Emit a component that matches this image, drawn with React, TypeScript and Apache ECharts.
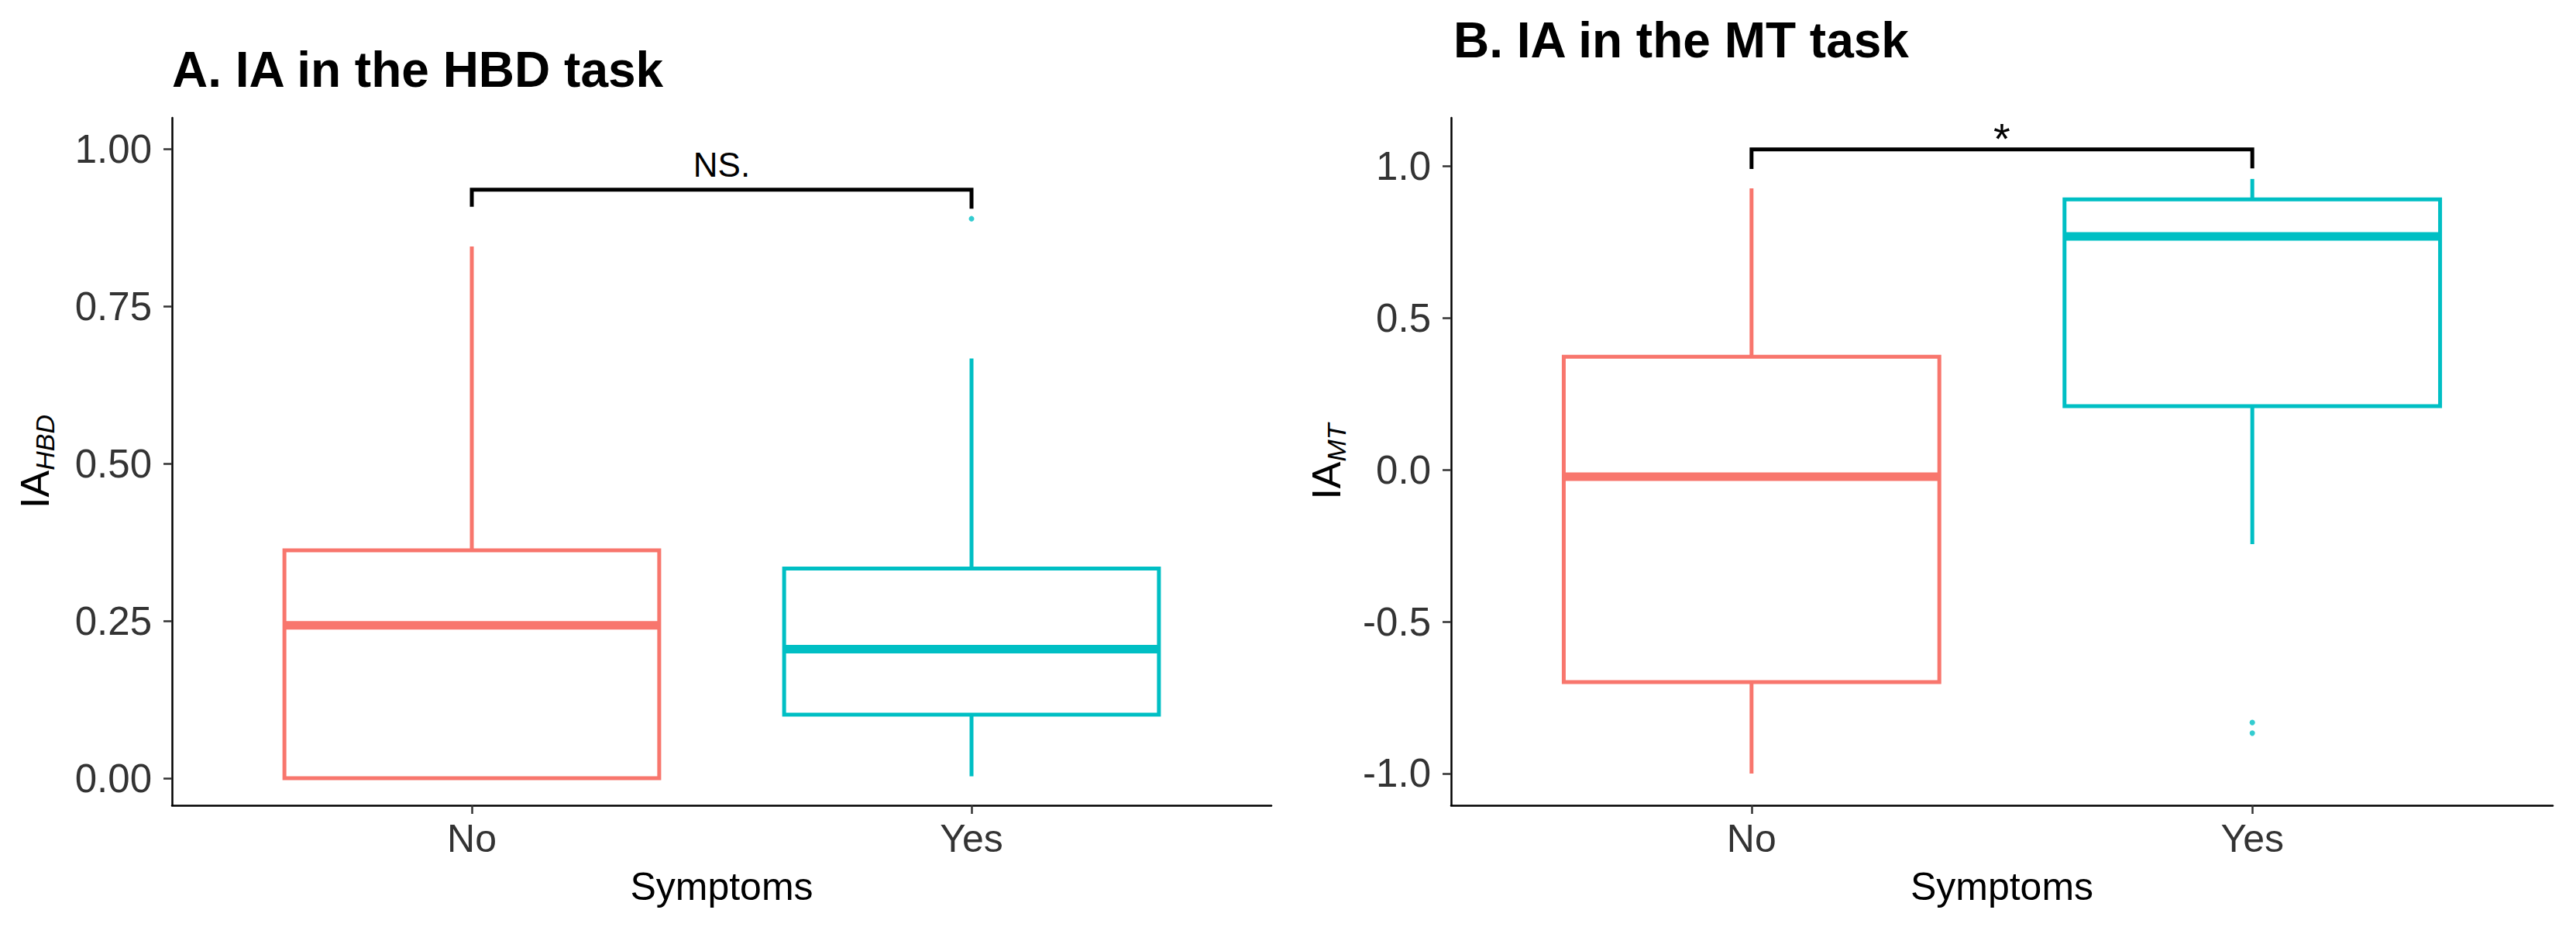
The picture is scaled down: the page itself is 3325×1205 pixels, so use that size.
import React, { useEffect, useRef } from "react";
import * as echarts from "echarts";

const FONT = "'Liberation Sans', Arial, Helvetica, sans-serif";

// Categories (x positions 1 and 2)
const categories = ["No", "Yes"];
const groupColors = ["#F8766D", "#00BFC4"];

// Panel A: IA in the HBD task — [x, lowWhisker, Q1, median, Q3, highWhisker]
const hbdBoxes = [
  [1, 0.0, 0.0, 0.243, 0.362, 0.845],
  [2, 0.003, 0.101, 0.205, 0.333, 0.667],
];
const hbdOutliers = [[2, 0.889]];
// [x1, x2, bracketTop, leftLegBottom, rightLegBottom]
const hbdSignif = [[1, 2, 0.935, 0.908, 0.905]];
const hbdSignifLabel = "NS.";
const hbdTicks = [0, 0.25, 0.5, 0.75, 1.0];

// Panel B: IA in the MT task
const mtBoxes = [
  [1, -1.0, -0.699, -0.023, 0.372, 0.926],
  [2, -0.245, 0.209, 0.768, 0.89, 0.957],
];
const mtOutliers = [
  [2, -0.832],
  [2, -0.867],
];
const mtSignif = [[1, 2, 1.054, 0.99, 0.992]];
const mtSignifLabel = "*";
const mtTicks = [-1.0, -0.5, 0.0, 0.5, 1.0];

const titles = ["A. IA in the HBD task", "B. IA in the MT task"];
const xTitle = "Symptoms";

function boxRender(params: any, api: any) {
  const x = api.value(0);
  const low = api.value(1);
  const q1 = api.value(2);
  const med = api.value(3);
  const q3 = api.value(4);
  const high = api.value(5);
  const hw = 0.375;
  const color = groupColors[params.dataIndex % groupColors.length];
  const c = (v: number) => api.coord([x, v]);
  const tl = api.coord([x - hw, q3]);
  const br = api.coord([x + hw, q1]);
  const ml = api.coord([x - hw, med]);
  const mr = api.coord([x + hw, med]);
  const children: any[] = [];
  if (high > q3) {
    children.push({
      type: "line",
      shape: { x1: c(high)[0], y1: c(high)[1], x2: c(q3)[0], y2: c(q3)[1] },
      style: { stroke: color, lineWidth: 5 },
    });
  }
  if (low < q1) {
    children.push({
      type: "line",
      shape: { x1: c(low)[0], y1: c(low)[1], x2: c(q1)[0], y2: c(q1)[1] },
      style: { stroke: color, lineWidth: 5 },
    });
  }
  children.push({
    type: "rect",
    shape: { x: tl[0], y: tl[1], width: br[0] - tl[0], height: br[1] - tl[1] },
    style: { fill: "#ffffff", stroke: color, lineWidth: 5 },
  });
  children.push({
    type: "line",
    shape: { x1: ml[0], y1: ml[1], x2: mr[0], y2: mr[1] },
    style: { stroke: color, lineWidth: 11 },
  });
  return { type: "group", children };
}

function makeSignifRender(label: string, fontSize: number, offset: number) {
  return function (params: any, api: any) {
    const x1 = api.value(0);
    const x2 = api.value(1);
    const top = api.value(2);
    const l1 = api.value(3);
    const l2 = api.value(4);
    const a = api.coord([x1, l1]);
    const b = api.coord([x1, top]);
    const cc = api.coord([x2, top]);
    const d = api.coord([x2, l2]);
    const mid = api.coord([(x1 + x2) / 2, top]);
    return {
      type: "group",
      children: [
        {
          type: "polyline",
          shape: { points: [a, b, cc, d] },
          style: { stroke: "#000", lineWidth: 5, fill: "none" },
        },
        {
          type: "text",
          x: mid[0],
          y: mid[1] - offset,
          style: {
            text: label,
            fontSize,
            fontFamily: FONT,
            fill: "#000",
            align: "center",
            verticalAlign: "middle",
            textAlign: "center",
            textVerticalAlign: "middle",
          },
        },
      ],
    };
  };
}

function xAxisCfg(gridIndex: number) {
  return {
    type: "value",
    gridIndex,
    min: 0.4,
    max: 2.6,
    splitLine: { show: false },
    axisLine: { show: true, onZero: false, lineStyle: { color: "#000", width: 2.5 } },
    axisTick: {
      show: true,
      customValues: [1, 2],
      length: 11,
      lineStyle: { color: "#333", width: 2.5 },
    },
    axisLabel: {
      show: true,
      customValues: [1, 2],
      formatter: (v: number) => categories[Math.round(v) - 1] ?? "",
      fontSize: 50,
      fontFamily: FONT,
      color: "#333",
      margin: 18,
    },
    name: xTitle,
    nameLocation: "middle",
    nameGap: 80,
    nameTextStyle: { fontSize: 50, fontFamily: FONT, color: "#000" },
  };
}

function yAxisCfg(
  gridIndex: number,
  min: number,
  max: number,
  ticks: number[],
  digits: number,
  sub: string,
  nameGap: number
) {
  return {
    type: "value",
    gridIndex,
    min,
    max,
    splitLine: { show: false },
    axisLine: { show: true, onZero: false, lineStyle: { color: "#000", width: 2.5 } },
    axisTick: {
      show: true,
      customValues: ticks,
      length: 11,
      lineStyle: { color: "#333", width: 2.5 },
    },
    axisLabel: {
      show: true,
      customValues: ticks,
      formatter: (v: number) => v.toFixed(digits),
      fontSize: 51,
      fontFamily: FONT,
      color: "#333",
      margin: 26,
    },
    name: "{a|IA}{b|" + sub + "}",
    nameLocation: "middle",
    nameRotate: 90,
    nameGap,
    nameTextStyle: {
      fontFamily: FONT,
      color: "#000",
      rich: {
        a: { fontSize: 52, fontFamily: FONT, color: "#000", lineHeight: 60, verticalAlign: "middle" },
        b: {
          fontSize: 34,
          fontFamily: FONT,
          fontStyle: "italic",
          color: "#000",
          lineHeight: 36,
          verticalAlign: "bottom",
          padding: [30, 0, 0, 0],
        },
      },
    },
  };
}

export default function App() {
  const ref = useRef<HTMLDivElement>(null);
  useEffect(() => {
    document.body.style.margin = "0";
    if (!ref.current) return;
    const chart = echarts.init(ref.current, undefined, { renderer: "svg" });
    const option: any = {
      animation: false,
      backgroundColor: "#ffffff",
      textStyle: { fontFamily: FONT },
      title: [
        {
          text: titles[0],
          left: 222,
          top: 58,
          padding: 0,
          textStyle: { fontSize: 64, fontWeight: "bold", color: "#000", fontFamily: FONT },
        },
        {
          text: titles[1],
          left: 1876,
          top: 20,
          padding: 0,
          textStyle: { fontSize: 64, fontWeight: "bold", color: "#000", fontFamily: FONT },
        },
      ],
      grid: [
        { left: 222, top: 152, width: 1419, height: 887, containLabel: false },
        { left: 1873, top: 152, width: 1422, height: 887, containLabel: false },
      ],
      xAxis: [xAxisCfg(0), xAxisCfg(1)],
      yAxis: [
        yAxisCfg(0, -0.0431, 1.0493, hbdTicks, 2, "HBD", 147),
        yAxisCfg(1, -1.1046, 1.1582, mtTicks, 1, "MT", 131),
      ],
      series: [
        {
          type: "custom",
          xAxisIndex: 0,
          yAxisIndex: 0,
          renderItem: boxRender,
          encode: { x: 0, y: [1, 2, 3, 4, 5] },
          data: hbdBoxes,
          z: 2,
        },
        {
          type: "scatter",
          xAxisIndex: 0,
          yAxisIndex: 0,
          data: hbdOutliers,
          symbol: "circle",
          symbolSize: 7,
          itemStyle: { color: groupColors[1] },
          z: 3,
        },
        {
          type: "custom",
          xAxisIndex: 0,
          yAxisIndex: 0,
          renderItem: makeSignifRender(hbdSignifLabel, 44, 32),
          encode: { x: [0, 1], y: [2, 3, 4] },
          data: hbdSignif,
          z: 4,
        },
        {
          type: "custom",
          xAxisIndex: 1,
          yAxisIndex: 1,
          renderItem: boxRender,
          encode: { x: 0, y: [1, 2, 3, 4, 5] },
          data: mtBoxes,
          z: 2,
        },
        {
          type: "scatter",
          xAxisIndex: 1,
          yAxisIndex: 1,
          data: mtOutliers,
          symbol: "circle",
          symbolSize: 7,
          itemStyle: { color: groupColors[1] },
          z: 3,
        },
        {
          type: "custom",
          xAxisIndex: 1,
          yAxisIndex: 1,
          renderItem: makeSignifRender(mtSignifLabel, 56, 14),
          encode: { x: [0, 1], y: [2, 3, 4] },
          data: mtSignif,
          z: 4,
        },
      ],
    };
    chart.setOption(option);
    return () => {
      chart.dispose();
    };
  }, []);
  return <div ref={ref} style={{ width: "3325px", height: "1205px" }} />;
}
